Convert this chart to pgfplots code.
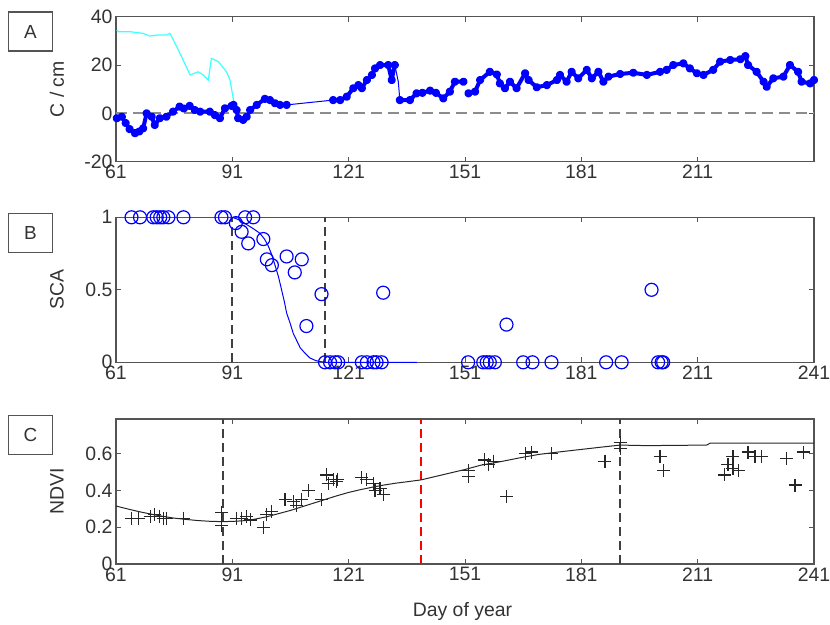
\documentclass[border=0pt]{standalone}
\usepackage{fontspec}
\setmainfont{Liberation Sans}
\usepackage{pgfplots}
\pgfplotsset{compat=1.18}
\definecolor{axgray}{gray}{0.33}
\definecolor{txtgray}{gray}{0.2}
\definecolor{zgray}{gray}{0.55}
\definecolor{mblue}{rgb}{0,0,1}
\definecolor{mcyan}{rgb}{0.25,1,1}
\begin{document}
\begin{tikzpicture}
\path[use as bounding box] (0bp,0bp) rectangle (830bp,-625bp);
\pgfplotsset{
 every axis/.append style={
  scale only axis, width=698bp, height=145bp, xmin=61, xmax=241,
  axis line style={axgray, line width=1.5bp},
  every tick/.style={axgray, line width=1bp},
  tick align=inside, major tick length=5bp,
  font=\fontsize{19.5}{22}\selectfont,
  tick label style={text=txtgray},
  /pgf/number format/assume math mode=true,
  xtick={61,91,...,241},
  ylabel style={at={(axis description cs:-0.0845,0.5)}, anchor=center, text=txtgray},
  clip=false,
 },
 vdash/.style={black!75, line width=1.9bp, dash pattern=on 9bp off 5bp},
}
% Label boxes
\node[draw=axgray, line width=1.5bp, minimum width=44bp, minimum height=39bp, inner sep=0pt, text=txtgray, font=\fontsize{19}{21}\selectfont] at (30.5bp,-31.5bp) {A};
\node[draw=axgray, line width=1.5bp, minimum width=44bp, minimum height=39bp, inner sep=0pt, text=txtgray, font=\fontsize{19}{21}\selectfont] at (30.5bp,-233bp) {B};
\node[draw=axgray, line width=1.5bp, minimum width=44bp, minimum height=39bp, inner sep=0pt, text=txtgray, font=\fontsize{19}{21}\selectfont] at (30.5bp,-435bp) {C};

% ---------------- Panel A
\begin{axis}[at={(116bp,-161.7bp)}, anchor=south west,
  ymin=-20, ymax=40, ytick={-20,0,20,40}, xtick={61,91,...,211},
  ylabel={C / cm}, unbounded coords=jump]
\addplot[zgray, line width=2bp, dash pattern=on 11bp off 6bp] coordinates {(61,0)(241,0)};
\addplot[mcyan, line width=1.2bp] coordinates {
(61.2,34.5)(61.6,33.8)(64.6,33.8)(68,33.1)(69.7,32)(71.5,32.4)(74,32.4)(74.9,33.1)
(75.8,30.4)(77.9,23.5)(80.1,15.9)(82.2,17.2)(83.5,15.9)(84.8,13.8)(85.6,22.8)
(87.4,21.4)(89.5,17.2)(90.4,13.8)(91.3,5.5)(91.7,2.8)};
% thin connecting line through all data
\addplot[mblue, line width=1bp] coordinates {
(61.2,-2.0)(62.5,-1.4)(63.5,-4)(64.5,-6.5)(65.9,-8.2)(67,-7.5)(68,-6.2)(68.9,0.0)(70.2,-1.4)
(71,-4.8)(72.3,-2.0)(74,-1.4)(75.7,0.7)(77.4,2.8)(78.5,2.0)(80,3.1)(81.3,1.4)(82.7,0.7)
(85.2,0.7)(86.5,-0.7)(87.8,-2.0)(89.1,2.1)(90.8,3.1)(91.3,3.5)(92.1,1.4)(92.5,-2.0)(93.8,-2.7)
(94.7,-1.4)(95.6,1.4)(97.3,3.5)(99.4,6.0)(100.7,5.5)(102,4.2)(103.3,3.5)(105,3.5)
(117,5.5)(118.8,5.5)(120.5,6.9)(122.2,10.4)(123.5,11.7)(124.4,10.4)(125.7,13.8)(127,15.9)
(127.8,18.6)(129.1,20)(131.2,20)(132.1,13.8)(132.9,20)(133.8,13.1)(134.2,5.5)(136.8,5.5)
(138.5,8.3)(140,8.5)(142,9.4)(143.5,8.5)(145.4,6.2)(147.1,9)(148.4,13.1)(150.6,13.1)
(nan,nan)
(151.9,8.3)(153.6,9)(154.9,13.8)(157.4,17.2)(159.2,16.1)(160,12.4)(161.3,10.4)(162.6,13.1)
(164.3,10.4)(166.5,16.6)(167.4,13.8)(169.5,10.8)(172.1,11.7)(174.7,13.8)(175.5,15.9)(177.2,13.1)
(178.5,17.2)(180.2,14.5)(182.4,18)(183.7,14.5)(185.4,17.2)(186.7,13.1)(188,15.2)(191,16.3)
(194.4,16.8)(197.9,15.9)(201.3,17.2)(203,18)(204.7,20)(207.3,20.7)(209,18.6)(210.8,16.6)
(212.5,15.9)(215,18)(216.8,21.4)(219.4,22.1)(222,22.4)(223.3,23.7)(224,20)(226.2,17.2)
(228,13.1)(228.8,11)(230.5,14.5)(233.1,15.2)(234.8,20)(236.9,17.2)(237.8,13.1)(240,12.4)(241,13.8)};
% dense asterisk-marked segments
\addplot[mblue, line width=4bp, line join=round, mark=*, mark size=2.1bp] coordinates {
(61.2,-2.0)(62.5,-1.4)(63.5,-4)(64.5,-6.5)(65.9,-8.2)(67,-7.5)(68,-6.2)(68.9,0.0)(70.2,-1.4)
(71,-4.8)(72.3,-2.0)(74,-1.4)(75.7,0.7)(77.4,2.8)(78.5,2.0)(80,3.1)(81.3,1.4)(82.7,0.7)
(85.2,0.7)(86.5,-0.7)(87.8,-2.0)(89.1,2.1)(90.8,3.1)(91.3,3.5)(92.1,1.4)(92.5,-2.0)(93.8,-2.7)
(94.7,-1.4)(95.6,1.4)(97.3,3.5)(99.4,6.0)(100.7,5.5)(102,4.2)(103.3,3.5)(105,3.5)
(nan,nan)
(117,5.5)(118.8,5.5)(120.5,6.9)(122.2,10.4)(123.5,11.7)(124.4,10.4)(125.7,13.8)(127,15.9)
(127.8,18.6)(129.1,20)(131.2,20)(132.1,13.8)(132.9,20)
(nan,nan)
(134.2,5.5)(136.8,5.5)(138.5,8.3)(140,8.5)(142,9.4)(143.5,8.5)(145.4,6.2)(147.1,9)(148.4,13.1)(150.6,13.1)
(nan,nan)
(151.9,8.3)(153.6,9)(154.9,13.8)(157.4,17.2)(159.2,16.1)(160,12.4)(161.3,10.4)(162.6,13.1)
(164.3,10.4)(166.5,16.6)(167.4,13.8)(169.5,10.8)(172.1,11.7)(174.7,13.8)(175.5,15.9)(177.2,13.1)
(178.5,17.2)(180.2,14.5)(182.4,18)(183.7,14.5)(185.4,17.2)(186.7,13.1)(188,15.2)(191,16.3)
(194.4,16.8)(197.9,15.9)(201.3,17.2)(203,18)(204.7,20)(207.3,20.7)(209,18.6)(210.8,16.6)
(212.5,15.9)(215,18)(216.8,21.4)(219.4,22.1)(222,22.4)(223.3,23.7)(224,20)(226.2,17.2)
(228,13.1)(228.8,11)(230.5,14.5)(233.1,15.2)(234.8,20)(236.9,17.2)(237.8,13.1)(240,12.4)(241,13.8)};
\end{axis}

% ---------------- Panel B
\begin{axis}[at={(116bp,-362.3bp)}, anchor=south west,
  ymin=0, ymax=1, ytick={0,0.5,1}, ylabel={SCA}]
\addplot[vdash] coordinates {(91,0)(91,1)};
\addplot[vdash] coordinates {(114.9,0)(114.9,1)};
\addplot[mblue, line width=1bp] coordinates {
(91,1)(93,0.98)(94.7,0.95)(96.5,0.92)(98.1,0.89)(99.3,0.85)(100.3,0.80)(101.2,0.74)(102,0.67)
(102.9,0.59)(103.7,0.50)(104.4,0.42)(105,0.34)(105.9,0.27)(106.7,0.20)(107.6,0.15)(108.5,0.10)
(109.5,0.07)(111,0.03)(112.5,0.012)(113.6,0.005)(115,0)(138.6,0)};
\addplot[only marks, mark=o, mark size=6.5bp, mblue, mark options={line width=1.2bp}] coordinates {
(65,1)(67.2,1)(70.6,1)(71.5,1)(72.4,1)(73.2,1)(74.5,1)(78.4,1)(88.2,1)(89.1,1)(94.3,1)(96.4,1)
(91.9,0.96)(93.4,0.90)(95.1,0.82)(99,0.85)(99.9,0.71)(101.2,0.67)(105,0.73)(107.1,0.62)
(108.9,0.71)(110.1,0.25)(114,0.47)(129.9,0.48)
(114.9,0)(116.2,0)(117.5,0)(118.3,0)(124.4,0)(125.7,0)(127.4,0)(128.2,0)(129.5,0)
(161.7,0.26)(199.1,0.50)
(151.8,0)(155.7,0)(156.6,0)(157.4,0)(158.7,0)(166,0)(168.4,0)(173.3,0)(187.4,0)(191.4,0)
(200.8,0)(201.7,0)(202.1,0)};
\end{axis}

% ---------------- Panel C
\begin{axis}[at={(116bp,-564bp)}, anchor=south west,
  ymin=0, ymax=0.79, ytick={0,0.2,0.4,0.6}, ylabel={NDVI},
  xlabel={Day of year},
  xlabel style={at={(axis description cs:0.4964,-0.362)}, anchor=base, text=txtgray}]
\addplot[vdash] coordinates {(88.5,0)(88.5,0.79)};
\addplot[vdash] coordinates {(191,0)(191,0.79)};
\addplot[red, line width=1.9bp, dash pattern=on 9bp off 5bp] coordinates {(139.6,0)(139.6,0.79)};
\addplot[black!85, line width=1bp] coordinates {
(61,0.316)(64,0.30)(67,0.285)(70,0.272)(73,0.26)(76,0.25)(79,0.243)(82,0.237)(85,0.233)
(88,0.231)(91,0.232)(94,0.236)(97,0.245)(100,0.258)(103,0.275)(106,0.292)(109,0.312)
(112,0.332)(115,0.352)(118,0.372)(121,0.39)(124,0.405)(127,0.418)(130,0.43)(133,0.44)
(136,0.448)(139.6,0.458)(143,0.475)(147,0.495)(151,0.515)(155,0.538)(160,0.557)(165,0.578)
(170,0.597)(175,0.61)(180,0.622)(185,0.634)(191,0.648)(197.9,0.645)(213.3,0.648)(214.2,0.658)(241,0.658)};
\addplot[only marks, mark=+, mark size=6.5bp, black!85, mark options={line width=1.2bp}] coordinates {
(65,0.25)(66.7,0.25)(69.8,0.26)(71,0.27)(72.3,0.26)(73.2,0.25)(74.1,0.25)(78.4,0.25)
(88.2,0.28)(88.2,0.21)(92.1,0.25)(93.4,0.25)(94.7,0.26)(95.6,0.24)(99,0.20)(99.9,0.27)
(101.2,0.285)(104.6,0.35)(106.7,0.34)(107.6,0.32)(108.9,0.35)(110.6,0.40)(114,0.35)
(115.3,0.485)(115.7,0.44)(117,0.46)(117.8,0.45)(118.2,0.46)(124.4,0.47)(125.7,0.46)
(127.4,0.44)(127.8,0.40)(129.1,0.41)(129.9,0.38)
(151.8,0.476)(152,0.51)(156.1,0.567)(157,0.54)(158.3,0.56)(161.7,0.37)(166.5,0.60)(168.2,0.61)
(173.3,0.60)(187.1,0.56)(191,0.66)(191,0.63)(201.3,0.585)(202.1,0.51)(217.9,0.485)(218.8,0.54)
(220.1,0.585)(220.1,0.52)(221.5,0.51)(224,0.61)(225.8,0.585)(227.5,0.585)(233.9,0.576)
(236.1,0.43)(238.2,0.61)};
\end{axis}
\end{tikzpicture}
\end{document}
